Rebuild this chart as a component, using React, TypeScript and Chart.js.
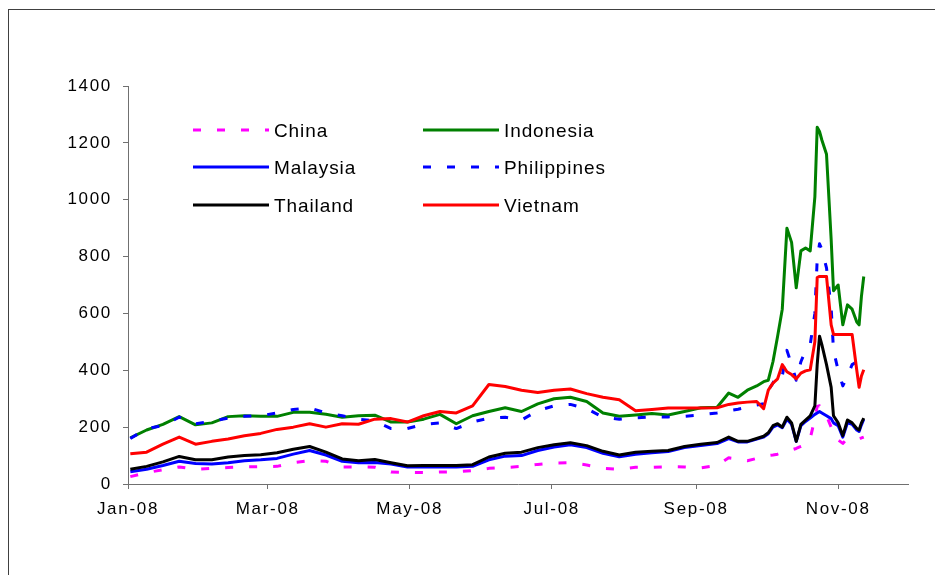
import React, { useEffect, useRef } from 'react';
import { Chart, registerables } from 'chart.js';

Chart.register(...registerables);

// Calendar day of 2008 (0 = 1 Jan)
const days = [
  1, 8, 15, 22, 29, 36, 43, 50, 57, 64, 71, 78, 85, 92, 99, 106, 113, 120, 127, 134,
  141, 148, 155, 162, 169, 176, 183, 190, 197, 204, 211, 218, 225, 232, 239, 246, 253,
  258, 262, 266, 270, 273, 275, 277, 279, 281, 283, 285, 287, 289, 291, 293, 295, 296,
  297, 298, 300, 302, 303, 305, 307, 309, 311, 313, 314, 315, 316,
];

const china = [
  26, 40, 50, 60, 52, 55, 58, 60, 61, 62, 75, 82, 80, 60, 60, 59, 42, 41, 40, 42,
  43, 47, 55, 58, 62, 69, 74, 75, 67, 55, 52, 59, 59, 61, 60, 57, 65,
  92, 88, 82, 90, 95, 100, 102, 105, 110, 115, 120, 125, 132, 138, 160, 230, 273,
  275, 260, 240, 200, 173, 155, 143, 160, 160, 160, 160, 162, 165,
];

const indonesia = [
  162, 190, 210, 237, 208, 215, 237, 240, 238, 238, 252, 252, 245, 235, 240, 242, 218, 218, 228, 245,
  212, 240, 255, 268, 255, 282, 300, 305, 290, 250, 238, 243, 248, 243, 255, 268, 270,
  320, 305, 330, 345, 360, 365, 430, 520, 615, 900, 850, 690, 820, 830, 820, 1010, 1255,
  1240, 1210, 1160, 860, 680, 700, 560, 630, 615, 570, 560, 660, 730,
];

const malaysia = [
  43, 52, 65, 80, 72, 70, 75, 82, 85, 90, 105, 118, 102, 80, 75, 76, 70, 60, 60, 60,
  60, 62, 85, 98, 100, 118, 130, 138, 128, 108, 96, 105, 110, 114, 128, 135, 142,
  160, 148, 148, 158, 165, 177, 200, 208, 198, 228, 210, 150, 205, 220, 232, 245, 250,
  255, 250, 240, 230, 215, 205, 165, 215, 210, 190, 185, 208, 228,
];

const philippines = [
  160, 195, 205, 235, 212, 220, 232, 238, 240, 250, 262, 268, 250, 240, 228, 222, 195, 195, 210, 215,
  195, 218, 232, 235, 225, 258, 275, 280, 265, 235, 228, 233, 236, 236, 238, 243, 250,
  258, 263, 270, 278, 282, 330, 355, 390, 380, 470, 420, 365, 430, 470, 490, 600, 790,
  845, 825, 760, 620, 470, 400, 345, 380, 420, 430, 430, 435, 435,
];

const thailand = [
  52, 62, 78, 97, 85, 85, 95, 100, 103, 110, 122, 132, 112, 88, 82, 86, 75, 64, 65, 65,
  65, 68, 95, 108, 112, 128, 138, 145, 135, 115, 102, 112, 115, 118, 132, 140, 146,
  165, 150, 150, 160, 168, 180, 205, 212, 200, 235, 215, 150, 210, 225, 240, 275, 420,
  520, 490, 420, 340, 240, 215, 170, 225, 215, 195, 190, 215, 232,
];

const vietnam = [
  106, 112, 140, 165, 140, 150, 158, 170, 178, 192, 200, 212, 200, 212, 210, 228, 230, 218, 240, 255,
  250, 275, 350, 343, 330, 322, 330, 334, 318, 305, 296, 258, 262, 267, 267, 267, 268,
  280, 285, 288, 290, 265, 330, 355, 370, 420, 395, 385, 370, 390, 398, 402, 500, 726,
  730, 730, 730, 560, 526, 526, 526, 526, 526, 400, 340, 380, 402,
];

const xTickDays = [0, 60, 121, 182, 244, 305];
const xTickLabels = ['Jan-08', 'Mar-08', 'May-08', 'Jul-08', 'Sep-08', 'Nov-08'];
const yTicks = [0, 200, 400, 600, 800, 1000, 1200, 1400];

const FONT = "'Liberation Sans', Arial, sans-serif";
const AXIS = '#707070';

const seriesDefs = [
  { label: 'China', data: china, color: '#FF00FF', dash: [8, 16] },
  { label: 'Indonesia', data: indonesia, color: '#008000', dash: [] as number[] },
  { label: 'Malaysia', data: malaysia, color: '#0000FF', dash: [] as number[] },
  { label: 'Philippines', data: philippines, color: '#0000FF', dash: [8, 16] },
  { label: 'Thailand', data: thailand, color: '#000000', dash: [] as number[] },
  { label: 'Vietnam', data: vietnam, color: '#FF0000', dash: [] as number[] },
];

const spacingPlugin = {
  id: 'letterSpacing',
  beforeDraw(chart: any) {
    chart.ctx.letterSpacing = '1.7px';
  },
};

// legend layout: two columns, three rows
const legendOrder = ['China', 'Indonesia', 'Malaysia', 'Philippines', 'Thailand', 'Vietnam'];

const legendPlugin = {
  id: 'insideLegend',
  afterDraw(chart: any) {
    const ctx = chart.ctx as CanvasRenderingContext2D;
    ctx.save();
    (ctx as any).letterSpacing = '0.9px';
    ctx.font = `19px ${FONT}`;
    ctx.textBaseline = 'alphabetic';
    ctx.textAlign = 'left';
    const colX = [193, 423];
    const rowY = [130, 167, 205];
    legendOrder.forEach((name, i) => {
      const def = seriesDefs.find((s) => s.label === name)!;
      const cx = colX[i % 2];
      const cy = rowY[Math.floor(i / 2)];
      ctx.save();
      ctx.beginPath();
      ctx.rect(cx, cy - 4, 76, 8);
      ctx.clip();
      ctx.strokeStyle = def.color;
      ctx.lineWidth = 3;
      ctx.lineCap = 'butt';
      ctx.setLineDash(def.dash);
      ctx.beginPath();
      ctx.moveTo(cx, cy);
      ctx.lineTo(cx + 76, cy);
      ctx.stroke();
      ctx.restore();
      ctx.fillStyle = '#000';
      ctx.fillText(name, cx + 81, cy + 6.8);
    });
    ctx.restore();
  },
};

export default function App() {
  const ref = useRef<HTMLCanvasElement>(null);

  useEffect(() => {
    const canvas = ref.current;
    if (!canvas) return;
    const datasets = seriesDefs.map((s, idx) => ({
      label: s.label,
      data: days.map((d, i) => ({ x: d, y: s.data[i] })),
      borderColor: s.color,
      backgroundColor: s.color,
      borderWidth: 3,
      borderDash: s.dash,
      borderCapStyle: 'butt' as const,
      borderJoinStyle: 'round' as const,
      pointRadius: 0,
      tension: 0,
      fill: false,
      order: seriesDefs.length - idx,
    }));

    const chart = new Chart(canvas, {
      type: 'line',
      data: { datasets },
      options: {
        responsive: false,
        animation: false,
        devicePixelRatio: 1,
        layout: { padding: { top: 86, right: 27, bottom: 0, left: 0 } },
        plugins: {
          legend: { display: false },
          tooltip: { enabled: false },
          title: { display: false },
        },
        scales: {
          x: {
            type: 'linear',
            min: 0,
            max: 335,
            afterBuildTicks: (s: any) => {
              s.ticks = xTickDays.map((v) => ({ value: v }));
            },
            afterFit: (s: any) => {
              s.height = 91;
            },
            ticks: {
              autoSkip: false,
              maxRotation: 0,
              minRotation: 0,
              padding: 10,
              color: '#000',
              font: { family: FONT, size: 17 },
              callback: (_v: any, i: number) => xTickLabels[i],
            },
            grid: { display: true, drawOnChartArea: false, drawTicks: true, tickLength: 5, color: AXIS },
            border: { display: true, color: AXIS, width: 1 },
          },
          y: {
            type: 'linear',
            min: 0,
            max: 1400,
            afterBuildTicks: (s: any) => {
              s.ticks = yTicks.map((v) => ({ value: v }));
            },
            afterFit: (s: any) => {
              s.width = 128;
            },
            ticks: {
              autoSkip: false,
              padding: 11,
              color: '#000',
              font: { family: FONT, size: 17 },
              callback: (v: any) => String(v),
            },
            grid: { display: true, drawOnChartArea: false, drawTicks: true, tickLength: 5, color: AXIS },
            border: { display: true, color: AXIS, width: 1 },
          },
        },
      },
      plugins: [spacingPlugin, legendPlugin],
    } as any);

    return () => chart.destroy();
  }, []);

  return (
    <div
      style={{
        position: 'fixed',
        left: 0,
        top: 0,
        width: 935,
        height: 575,
        overflow: 'hidden',
        background: '#fff',
      }}
    >
      <div
        style={{
          position: 'absolute',
          left: 8,
          top: 9,
          width: 1000,
          height: 700,
          borderTop: '1px solid #404040',
          borderLeft: '1px solid #404040',
        }}
      />
      <canvas
        ref={ref}
        width={935}
        height={575}
        style={{ position: 'absolute', left: 0, top: 0, width: 935, height: 575 }}
      />
    </div>
  );
}
